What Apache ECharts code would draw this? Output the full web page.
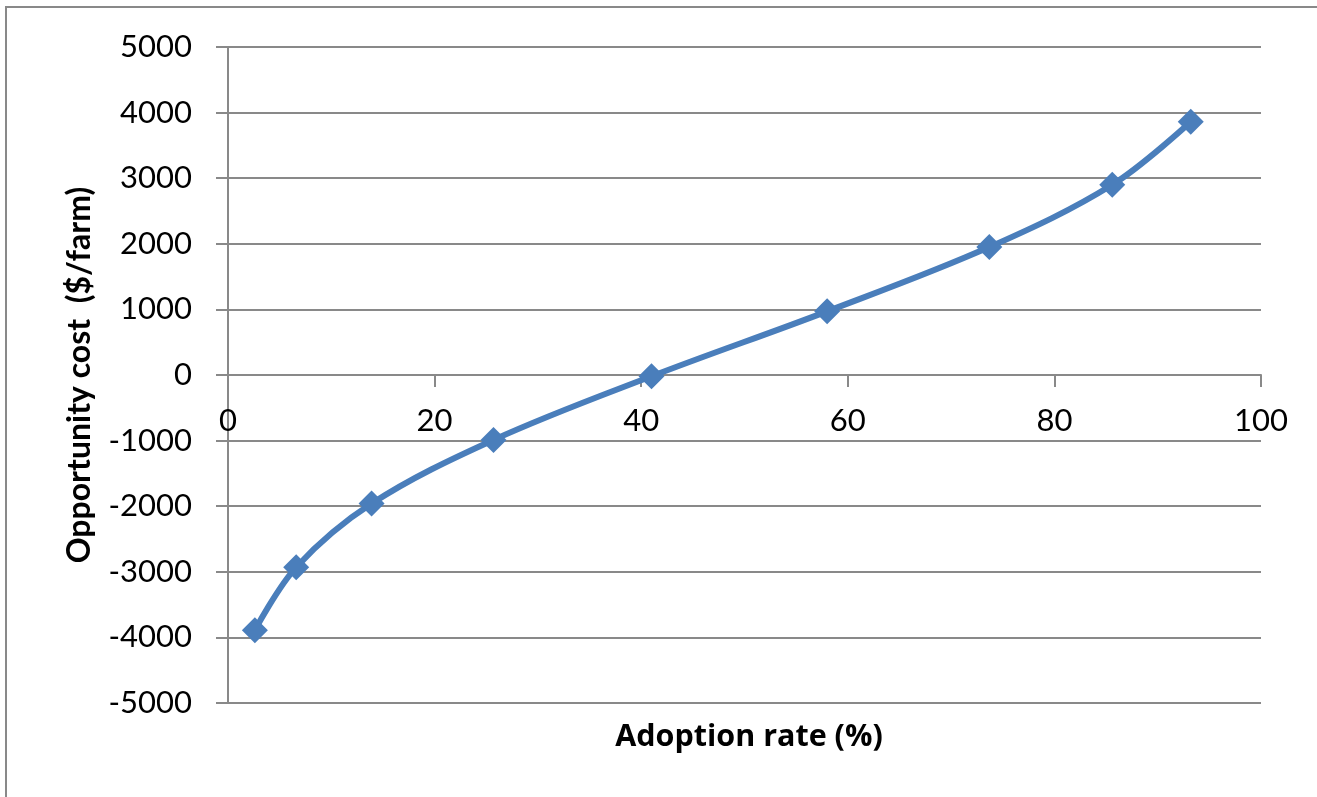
<!DOCTYPE html>
<html>
<head>
<meta charset="utf-8">
<script src="https://cdn.jsdelivr.net/npm/echarts@6/dist/echarts.min.js"></script>
<style>html,body{margin:0;padding:0;background:#fff;}#c{width:1317px;height:797px;}</style>
</head>
<body>
<div id="c"></div>
<script>
const adoptionRate = [2.6, 6.6, 13.9, 25.7, 41.0, 58.0, 73.7, 85.6, 93.2];
const opportunityCost = [-3890, -2930, -1960, -990, -20, 970, 1950, 2900, 3860];
const xTitle = 'Adoption rate (%)';
const yTitle = 'Opportunity cost  ($/farm)';

const chart = echarts.init(document.getElementById('c'), null, {renderer: 'canvas'});
const gray = '#898989';
const font = 'Lato, "Open Sans", sans-serif';
const gridTop = 47, gridBottomPx = 703;
const zeroY = gridTop + (gridBottomPx - gridTop) * 0.5;
chart.setOption({
  animation: false,
  backgroundColor: '#fff',
  graphic: [{
    type: 'rect', shape: {x: 6, y: 7, width: 1400, height: 900},
    style: {fill: 'none', stroke: gray, lineWidth: 2}, silent: true, z: -1
  }],
  title: {
    text: xTitle, left: 744, top: 717, textAlign: 'center',
    textStyle: {color: '#000', fontSize: 30.5, fontWeight: 'bold', fontFamily: '"Open Sans", sans-serif'}
  },
  grid: {left: 228, right: 56, top: gridTop, bottom: 797 - gridBottomPx, containLabel: false, outerBoundsMode: 'none'},
  xAxis: [{
    type: 'value', min: 0, max: 100, interval: 20, position: 'bottom',
    axisLine: {onZero: true, lineStyle: {color: gray, width: 2}},
    axisTick: {show: true, length: 12, inside: false, lineStyle: {color: gray, width: 2}},
    axisLabel: {show: false},
    splitLine: {show: false}
  }, {
    type: 'value', min: 0, max: 100, interval: 20, position: 'bottom',
    offset: -(gridBottomPx - zeroY),
    axisLine: {show: false, onZero: false},
    axisTick: {show: false},
    axisLabel: {color: '#000', fontSize: 31, fontFamily: font, margin: 30, formatter: v => String(v)},
    splitLine: {show: false}
  }],
  yAxis: {
    type: 'value', min: -5000, max: 5000, interval: 1000,
    axisLine: {show: true, onZero: false, lineStyle: {color: gray, width: 2}},
    axisTick: {show: true, length: 12, lineStyle: {color: gray, width: 2}},
    axisLabel: {color: '#000', fontSize: 31, fontFamily: font, margin: 36, formatter: v => String(v)},
    splitLine: {show: true, lineStyle: {color: gray, width: 2}},
    name: yTitle, nameLocation: 'middle', nameGap: 132, nameRotate: 90,
    nameTextStyle: {color: '#000', fontSize: 32, fontWeight: 'bold', fontFamily: font}
  },
  series: [{
    type: 'line', xAxisIndex: 0,
    data: adoptionRate.map((x, i) => [x, opportunityCost[i]]),
    smooth: 0.35,
    symbol: 'diamond', symbolSize: 26,
    lineStyle: {color: '#4a7ebb', width: 6},
    itemStyle: {color: '#4a7ebb'}
  }]
});
</script>
</body>
</html>
